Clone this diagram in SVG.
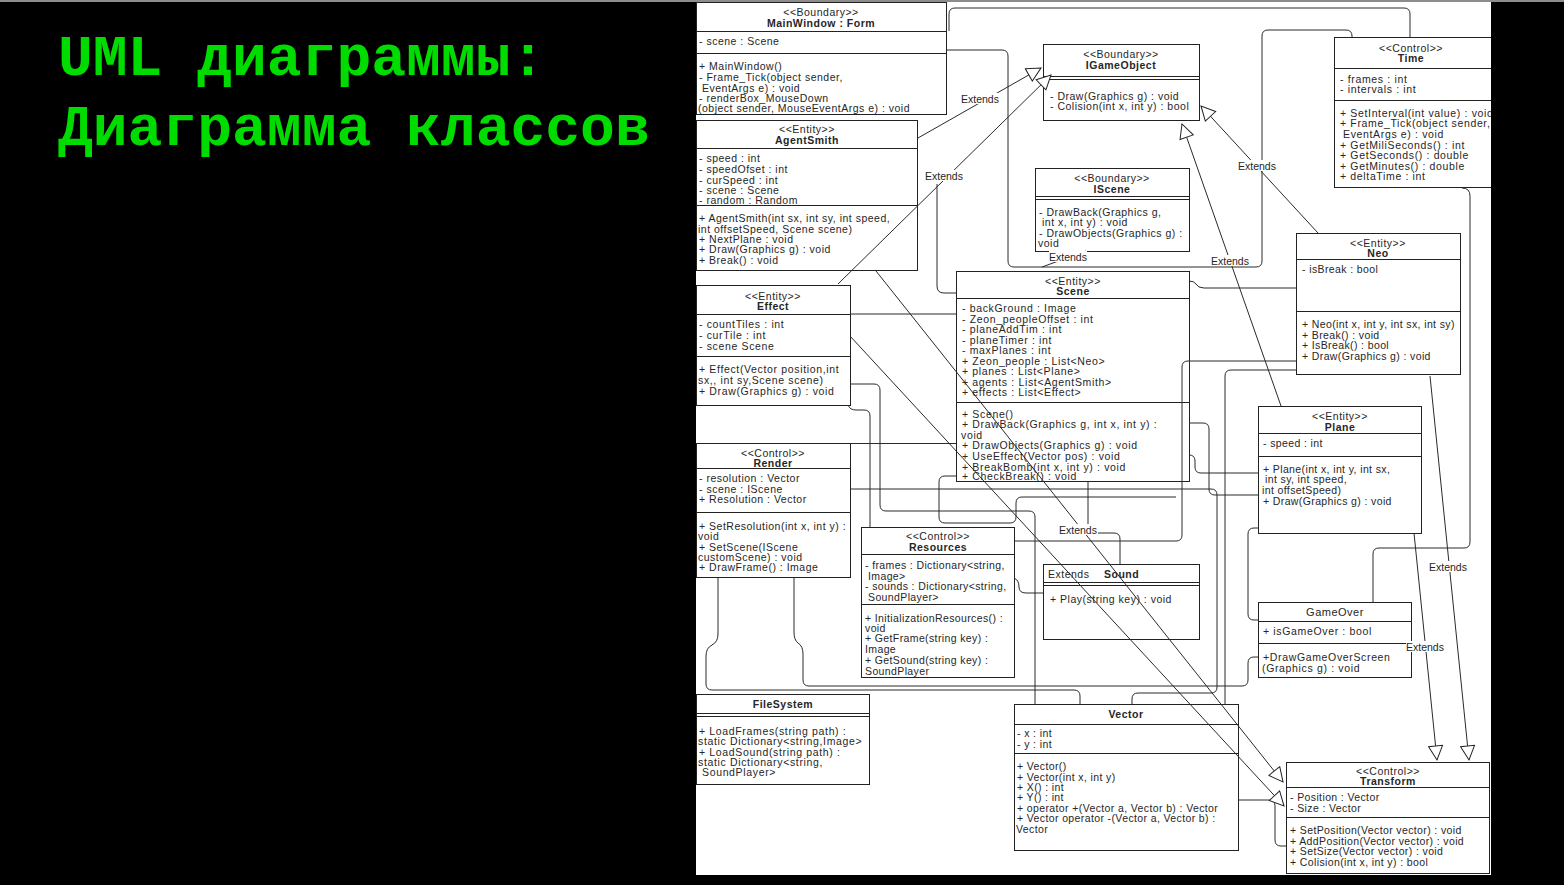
<svg xmlns="http://www.w3.org/2000/svg" width="1564" height="885" viewBox="0 0 1564 885">
<defs>
<style>
text{font-family:"Liberation Sans",Arial,sans-serif;font-size:10.5px;letter-spacing:0.5px;fill:#262626}
.c{text-anchor:middle}
.b{font-weight:bold}
.wide{letter-spacing:0.65px}
.tight{letter-spacing:0.38px}
.box{fill:#fff;stroke:#222;stroke-width:1}
.div{stroke:#222;stroke-width:1}
.edge{fill:none;stroke:#2a2a2a;stroke-width:1}
.lbl{letter-spacing:0;text-anchor:middle}
.lblbg{fill:#fff}
.title{font-family:"Liberation Mono","Courier New",monospace;font-size:58px;letter-spacing:0;font-weight:bold;fill:#00dc00}
</style>
<marker id="gen" viewBox="0 0 16 16" refX="15" refY="8" markerWidth="16" markerHeight="16" markerUnits="userSpaceOnUse" orient="auto">
<path d="M1,1 L15,8 L1,15 z" fill="#fff" stroke="#222" stroke-width="1"/>
</marker>
<clipPath id="sheet"><rect x="696" y="2" width="795" height="873"/></clipPath>
</defs>

<rect width="1564" height="885" fill="#000"/>
<rect width="1564" height="2" fill="#8c8c8c"/>

<g id="title">
<text class="title" x="58" y="75">UML диаграммы:</text>
<text class="title" x="58" y="145">Диаграмма классов</text>
</g>

<g clip-path="url(#sheet)">
<rect x="696" y="2" width="795" height="873" fill="#fff"/>

<g id="main-window">
<rect class="box" x="696.5" y="2.5" width="250" height="112"/>
<line class="div" x1="696" y1="31.5" x2="947" y2="31.5"/>
<line class="div" x1="696" y1="53.5" x2="947" y2="53.5"/>
<text class="c" x="821" y="16">&lt;&lt;Boundary&gt;&gt;</text>
<text class="c b" x="821" y="27">MainWindow : Form</text>
<text x="699" y="45">- scene : Scene</text>
<text x="699" y="70">+ MainWindow()</text>
<text x="699" y="81">- Frame_Tick(object sender,</text>
<text x="702" y="92">EventArgs e) : void</text>
<text x="699" y="102">- renderBox_MouseDown</text>
<text x="698" y="112">(object sender, MouseEventArgs e) : void</text>
</g>

<g id="agent-smith">
<rect class="box" x="696.5" y="120.5" width="221" height="150"/>
<line class="div" x1="696" y1="148.5" x2="918" y2="148.5"/>
<line class="div" x1="696" y1="205.5" x2="918" y2="205.5"/>
<text class="c" x="807" y="133">&lt;&lt;Entity&gt;&gt;</text>
<text class="c b" x="807" y="144">AgentSmith</text>
<text x="699" y="162">- speed : int</text>
<text x="699" y="173">- speedOfset : int</text>
<text x="699" y="184">- curSpeed : int</text>
<text x="699" y="194">- scene : Scene</text>
<text x="699" y="204">- random : Random</text>
<text x="699" y="222">+ AgentSmith(int sx, int sy, int speed,</text>
<text x="698" y="233">int offsetSpeed, Scene scene)</text>
<text x="699" y="243">+ NextPlane : void</text>
<text x="699" y="253">+ Draw(Graphics g) : void</text>
<text x="699" y="264">+ Break() : void</text>
</g>

<g id="effect">
<rect class="box" x="696.5" y="285.5" width="154" height="120"/>
<line class="div" x1="696" y1="314.5" x2="851" y2="314.5"/>
<line class="div" x1="696" y1="356.5" x2="851" y2="356.5"/>
<text class="c" x="773" y="300">&lt;&lt;Entity&gt;&gt;</text>
<text class="c b" x="773" y="310">Effect</text>
<text class="wide" x="699" y="328">- countTiles : int</text>
<text class="wide" x="699" y="339">- curTile : int</text>
<text class="wide" x="699" y="350">- scene Scene</text>
<text class="wide" x="699" y="373">+ Effect(Vector position,int</text>
<text class="wide" x="698" y="384">sx,, int sy,Scene scene)</text>
<text class="wide" x="699" y="395">+ Draw(Graphics g) : void</text>
</g>

<g id="render">
<rect class="box" x="696.5" y="443.5" width="154" height="134"/>
<line class="div" x1="696" y1="468.5" x2="851" y2="468.5"/>
<line class="div" x1="696" y1="512.5" x2="851" y2="512.5"/>
<text class="c" x="773" y="457">&lt;&lt;Control&gt;&gt;</text>
<text class="c b" x="773" y="467">Render</text>
<text x="699" y="482">- resolution : Vector</text>
<text x="699" y="493">- scene : IScene</text>
<text x="699" y="503">+ Resolution : Vector</text>
<text x="699" y="530">+ SetResolution(int x, int y) :</text>
<text x="698" y="540">void</text>
<text x="699" y="551">+ SetScene(IScene</text>
<text x="698" y="561">customScene) : void</text>
<text x="699" y="571">+ DrawFrame() : Image</text>
</g>

<g id="resources">
<rect class="box" x="861.5" y="527.5" width="153" height="150"/>
<line class="div" x1="861" y1="554.5" x2="1015" y2="554.5"/>
<line class="div" x1="861" y1="604.5" x2="1015" y2="604.5"/>
<text class="c" x="938" y="540">&lt;&lt;Control&gt;&gt;</text>
<text class="c b" x="938" y="551">Resources</text>
<text class="tight" x="865" y="569">-  frames : Dictionary&lt;string,</text>
<text class="tight" x="868" y="580">Image&gt;</text>
<text class="tight" x="865" y="590">- sounds : Dictionary&lt;string,</text>
<text class="tight" x="868" y="601">SoundPlayer&gt;</text>
<text class="tight" x="865" y="622">+ InitializationResources() :</text>
<text class="tight" x="865" y="632">void</text>
<text class="tight" x="865" y="642">+ GetFrame(string key) :</text>
<text class="tight" x="865" y="653">Image</text>
<text class="tight" x="865" y="664">+ GetSound(string key) :</text>
<text class="tight" x="865" y="675">SoundPlayer</text>
</g>

<g id="file-system">
<rect class="box" x="696.5" y="694.5" width="173" height="90"/>
<line class="div" x1="696" y1="713.5" x2="870" y2="713.5"/>
<line class="div" x1="696" y1="716.5" x2="870" y2="716.5"/>
<text class="c b" x="783" y="708">FileSystem</text>
<text class="wide" x="699" y="735">+ LoadFrames(string path) :</text>
<text class="wide" x="698" y="745">static Dictionary&lt;string,Image&gt;</text>
<text class="wide" x="699" y="756">+ LoadSound(string path) :</text>
<text class="wide" x="698" y="766">static Dictionary&lt;string,</text>
<text class="wide" x="702" y="776">SoundPlayer&gt;</text>
</g>

<g id="scene">
<rect class="box" x="956.5" y="271.5" width="233" height="210"/>
<line class="div" x1="956" y1="298.5" x2="1190" y2="298.5"/>
<line class="div" x1="956" y1="402.5" x2="1190" y2="402.5"/>
<text class="c" x="1073" y="285">&lt;&lt;Entity&gt;&gt;</text>
<text class="c b" x="1073" y="295">Scene</text>
<text class="wide" x="962" y="312">- backGround : Image</text>
<text class="wide" x="962" y="323">- Zeon_peopleOffset : int</text>
<text class="wide" x="962" y="333">- planeAddTim : int</text>
<text class="wide" x="962" y="344">- planeTimer : int</text>
<text class="wide" x="962" y="354">- maxPlanes : int</text>
<text class="wide" x="962" y="365">+ Zeon_people : List&lt;Neo&gt;</text>
<text class="wide" x="962" y="375">+ planes : List&lt;Plane&gt;</text>
<text class="wide" x="962" y="386">+ agents : List&lt;AgentSmith&gt;</text>
<text class="wide" x="962" y="396">+ effects : List&lt;Effect&gt;</text>
<text class="wide" x="962" y="418">+ Scene()</text>
<text class="wide" x="962" y="428">+ DrawBack(Graphics g, int x, int y) :</text>
<text class="wide" x="961" y="439">void</text>
<text class="wide" x="962" y="449">+ DrawObjects(Graphics g) : void</text>
<text class="wide" x="962" y="460">+ UseEffect(Vector pos)  : void</text>
<text class="wide" x="962" y="471">+ BreakBomb(int x, int y) : void</text>
<text class="wide" x="962" y="480">+ CheckBreak() : void</text>
</g>

<g id="i-game-object">
<rect class="box" x="1043.5" y="44.5" width="156" height="76"/>
<line class="div" x1="1043" y1="76.5" x2="1200" y2="76.5"/>
<line class="div" x1="1043" y1="79.5" x2="1200" y2="79.5"/>
<text class="c" x="1121" y="58">&lt;&lt;Boundary&gt;&gt;</text>
<text class="c b" x="1121" y="69">IGameObject</text>
<text x="1050" y="100">- Draw(Graphics g) : void</text>
<text x="1050" y="110">- Colision(int x, int y) : bool</text>
</g>

<g id="i-scene">
<rect class="box" x="1035.5" y="168.5" width="154" height="83"/>
<line class="div" x1="1035" y1="196.5" x2="1190" y2="196.5"/>
<line class="div" x1="1035" y1="199.5" x2="1190" y2="199.5"/>
<text class="c" x="1112" y="182">&lt;&lt;Boundary&gt;&gt;</text>
<text class="c b" x="1112" y="193">IScene</text>
<text x="1039" y="216">- DrawBack(Graphics g,</text>
<text x="1042" y="226">int x, int y) : void</text>
<text x="1039" y="237">- DrawObjects(Graphics g) :</text>
<text x="1038" y="247">void</text>
</g>

<g id="time">
<rect class="box" x="1334.5" y="37.5" width="160" height="150"/>
<line class="div" x1="1334" y1="68.5" x2="1495" y2="68.5"/>
<line class="div" x1="1334" y1="100.5" x2="1495" y2="100.5"/>
<text class="c" x="1411" y="52">&lt;&lt;Control&gt;&gt;</text>
<text class="c b" x="1411" y="62">Time</text>
<text class="wide" x="1340" y="83">- frames : int</text>
<text class="wide" x="1340" y="93">- intervals : int</text>
<text class="wide" x="1340" y="117">+ SetInterval(int value) : void</text>
<text class="wide" x="1340" y="127">+ Frame_Tick(object sender,</text>
<text class="wide" x="1343" y="138">EventArgs e) : void</text>
<text class="wide" x="1340" y="149">+ GetMiliSeconds() : int</text>
<text class="wide" x="1340" y="159">+ GetSeconds() : double</text>
<text class="wide" x="1340" y="170">+ GetMinutes() : double</text>
<text class="wide" x="1340" y="180">+ deltaTime : int</text>
</g>

<g id="neo">
<rect class="box" x="1296.5" y="233.5" width="164" height="141"/>
<line class="div" x1="1296" y1="259.5" x2="1461" y2="259.5"/>
<line class="div" x1="1296" y1="311.5" x2="1461" y2="311.5"/>
<text class="c" x="1378" y="247">&lt;&lt;Entity&gt;&gt;</text>
<text class="c b" x="1378" y="257">Neo</text>
<text class="tight" x="1302" y="273">- isBreak : bool</text>
<text class="tight" x="1302" y="328">+ Neo(int x, int y, int sx, int sy)</text>
<text class="tight" x="1302" y="339">+  Break() : void</text>
<text class="tight" x="1302" y="349">+ IsBreak() : bool</text>
<text class="tight" x="1302" y="360">+ Draw(Graphics g) : void</text>
</g>

<g id="plane">
<rect class="box" x="1258.5" y="406.5" width="163" height="127"/>
<line class="div" x1="1258" y1="433.5" x2="1422" y2="433.5"/>
<line class="div" x1="1258" y1="456.5" x2="1422" y2="456.5"/>
<text class="c" x="1340" y="420">&lt;&lt;Entity&gt;&gt;</text>
<text class="c b" x="1340" y="431">Plane</text>
<text class="tight" x="1263" y="447">- speed : int</text>
<text class="tight" x="1263" y="473">+ Plane(int x, int y, int sx,</text>
<text class="tight" x="1265" y="483">int sy, int speed,</text>
<text class="tight" x="1262" y="494">int offsetSpeed)</text>
<text class="tight" x="1263" y="505">+ Draw(Graphics g) : void</text>
</g>

<g id="sound">
<rect class="box" x="1043.5" y="564.5" width="156" height="75"/>
<line class="div" x1="1043" y1="582.5" x2="1200" y2="582.5"/>
<line class="div" x1="1043" y1="585.5" x2="1200" y2="585.5"/>
<text x="1048" y="578">Extends</text>
<text class="b" x="1104" y="578">Sound</text>
<text x="1050" y="603">+ Play(string key) : void</text>
</g>

<g id="game-over">
<rect class="box" x="1258.5" y="602.5" width="153" height="75"/>
<line class="div" x1="1258" y1="621.5" x2="1412" y2="621.5"/>
<line class="div" x1="1258" y1="643.5" x2="1412" y2="643.5"/>
<text class="c" x="1335" y="616" style="font-size:11px">GameOver</text>
<text class="wide" x="1263" y="635">+ isGameOver : bool</text>
<text class="wide" x="1263" y="661">+DrawGameOverScreen</text>
<text class="wide" x="1262" y="672">(Graphics g) : void</text>
</g>

<g id="vector">
<rect class="box" x="1014.5" y="704.5" width="224" height="146"/>
<line class="div" x1="1014" y1="724.5" x2="1239" y2="724.5"/>
<line class="div" x1="1014" y1="753.5" x2="1239" y2="753.5"/>
<text class="c b" x="1126" y="718">Vector</text>
<text class="tight" x="1017" y="737">- x : int</text>
<text class="tight" x="1017" y="748">- y : int</text>
<text class="tight" x="1017" y="770">+ Vector()</text>
<text class="tight" x="1017" y="781">+ Vector(int x, int y)</text>
<text class="tight" x="1017" y="791">+ X() : int</text>
<text class="tight" x="1017" y="801">+ Y() : int</text>
<text class="tight" x="1017" y="812">+ operator +(Vector a, Vector b) : Vector</text>
<text class="tight" x="1017" y="822">+ Vector operator -(Vector a, Vector b) :</text>
<text class="tight" x="1016" y="833">Vector</text>
</g>

<g id="transform">
<rect class="box" x="1286.5" y="762.5" width="203" height="111"/>
<line class="div" x1="1286" y1="787.5" x2="1490" y2="787.5"/>
<line class="div" x1="1286" y1="817.5" x2="1490" y2="817.5"/>
<text class="c" x="1388" y="775">&lt;&lt;Control&gt;&gt;</text>
<text class="c b" x="1388" y="785">Transform</text>
<text class="tight" x="1290" y="801">- Position : Vector</text>
<text class="tight" x="1290" y="812">- Size : Vector</text>
<text class="tight" x="1290" y="834">+ SetPosition(Vector vector) : void</text>
<text class="tight" x="1290" y="845">+ AddPosition(Vector vector) : void</text>
<text class="tight" x="1290" y="855">+ SetSize(Vector vector) : void</text>
<text class="tight" x="1290" y="866">+ Colision(int x, int y) : bool</text>
</g>

<g id="connectors">
<!-- associations, routed orthogonally with rounded bends -->
<path class="edge" d="M949,31 V14 Q949,8 955,8 H1404 Q1410,8 1410,14 V37"/>
<path class="edge" d="M947,50 H1002 Q1008,50 1008,56 V261 Q1008,267 1014,267 H1256 Q1262,267 1262,261 V36 Q1262,30 1268,30 H1346 Q1352,30 1352,36 V37"/>
<path class="edge" d="M937,184 V286 Q937,293 944,293 H956"/>
<path class="edge" d="M850,314 H956"/>
<path class="edge" d="M850,443.5 H956"/>
<path class="edge" d="M850,489 H1211 Q1217,489 1217,495 V687 Q1217,693 1211,693 H1138 Q1132,693 1132,699 V704"/>
<path class="edge" d="M1189,455 Q1195,455 1195,461 V467 Q1195,473 1201,473 H1258"/>
<path class="edge" d="M1189,281 Q1194,281 1196,284 Q1198,288 1204,288 H1296"/>
<path class="edge" d="M1296,361 H1188 Q1182,361 1182,367 V535 Q1182,541 1176,541 H1014"/>
<path class="edge" d="M1296,370 H1231 Q1225,370 1225,376 V704"/>
<path class="edge" d="M1462,188 Q1470,188 1470,196 V542 Q1470,548 1464,548 H1379 Q1373,548 1373,554 V602"/>
<path class="edge" d="M718,577 V634 Q718,642 712,645 Q706,648 706,656 V684 Q706,690 712,690 H1074 Q1080,690 1080,696 V704"/>
<path class="edge" d="M794,577 V632 Q794,640 798,643 Q803,646 803,654 V680 Q803,686 809,686 H1242 Q1248,686 1248,680 V663 Q1248,657 1254,657 H1258"/>
<path class="edge" d="M1238,800 H1269 Q1275,800 1275,806 V840 Q1275,846 1281,846 H1286"/>
<path class="edge" d="M1014,578 Q1019,580 1019,587 Q1019,593 1026,593 H1043"/>
<path class="edge" d="M1088,481 V526"/>
<path class="edge" d="M1098,533 H1114 Q1120,533 1120,539 V564"/>
<path class="edge" d="M848,405 Q850,410 856,410 H864 Q870,410 870,416 V527"/>
<path class="edge" d="M850,384 H874 Q880,384 880,390 V505 Q880,511 886,511 H1029 Q1035,511 1035,517 V704"/>
<path class="edge" d="M1258,528 H1254 Q1248,528 1248,534 V614 Q1248,620 1254,620 H1258"/>
<path class="edge" d="M1189,423 H1203 Q1209,423 1209,429 V489 Q1209,495 1215,495 H1258"/>
<path class="edge" d="M956,476 H945 Q939,476 939,482 V517 Q939,523 945,523 H1010 Q1016,523 1016,517 V503 Q1016,497 1022,497 H1176"/>

<!-- generalizations -->
<path class="edge" d="M918,138 L1041,68" marker-end="url(#gen)"/>
<path class="edge" d="M838,284 L1051,75" marker-end="url(#gen)"/>
<path class="edge" d="M1318,233 L1201,106" marker-end="url(#gen)"/>
<path class="edge" d="M1281,406 L1182,124" marker-end="url(#gen)"/>
<path class="edge" d="M1042,267 L1086,251"/>
<path class="edge" d="M1414,533 L1437,760" marker-end="url(#gen)"/>
<path class="edge" d="M1430,376 L1469,760" marker-end="url(#gen)"/>
<path class="edge" d="M876,271 L1283,782" marker-end="url(#gen)"/>
<path class="edge" d="M850,336 L1284,806" marker-end="url(#gen)"/>

<g id="edge-labels">
<rect class="lblbg" x="961" y="93" width="39" height="11"/>
<text class="lbl" x="980" y="103">Extends</text>
<rect class="lblbg" x="925" y="170" width="39" height="11"/>
<text class="lbl" x="944" y="180">Extends</text>
<rect class="lblbg" x="1238" y="160" width="39" height="11"/>
<text class="lbl" x="1257" y="170">Extends</text>
<rect class="lblbg" x="1211" y="255" width="39" height="11"/>
<text class="lbl" x="1230" y="265">Extends</text>
<rect class="lblbg" x="1049" y="251" width="38" height="11"/>
<text class="lbl" x="1068" y="261">Extends</text>
<rect class="lblbg" x="1059" y="524" width="39" height="11"/>
<text class="lbl" x="1078" y="534">Extends</text>
<rect class="lblbg" x="1429" y="561" width="39" height="11"/>
<text class="lbl" x="1448" y="571">Extends</text>
<rect class="lblbg" x="1406" y="641" width="39" height="11"/>
<text class="lbl" x="1425" y="651">Extends</text>
</g>
</g>
</g>
</svg>
